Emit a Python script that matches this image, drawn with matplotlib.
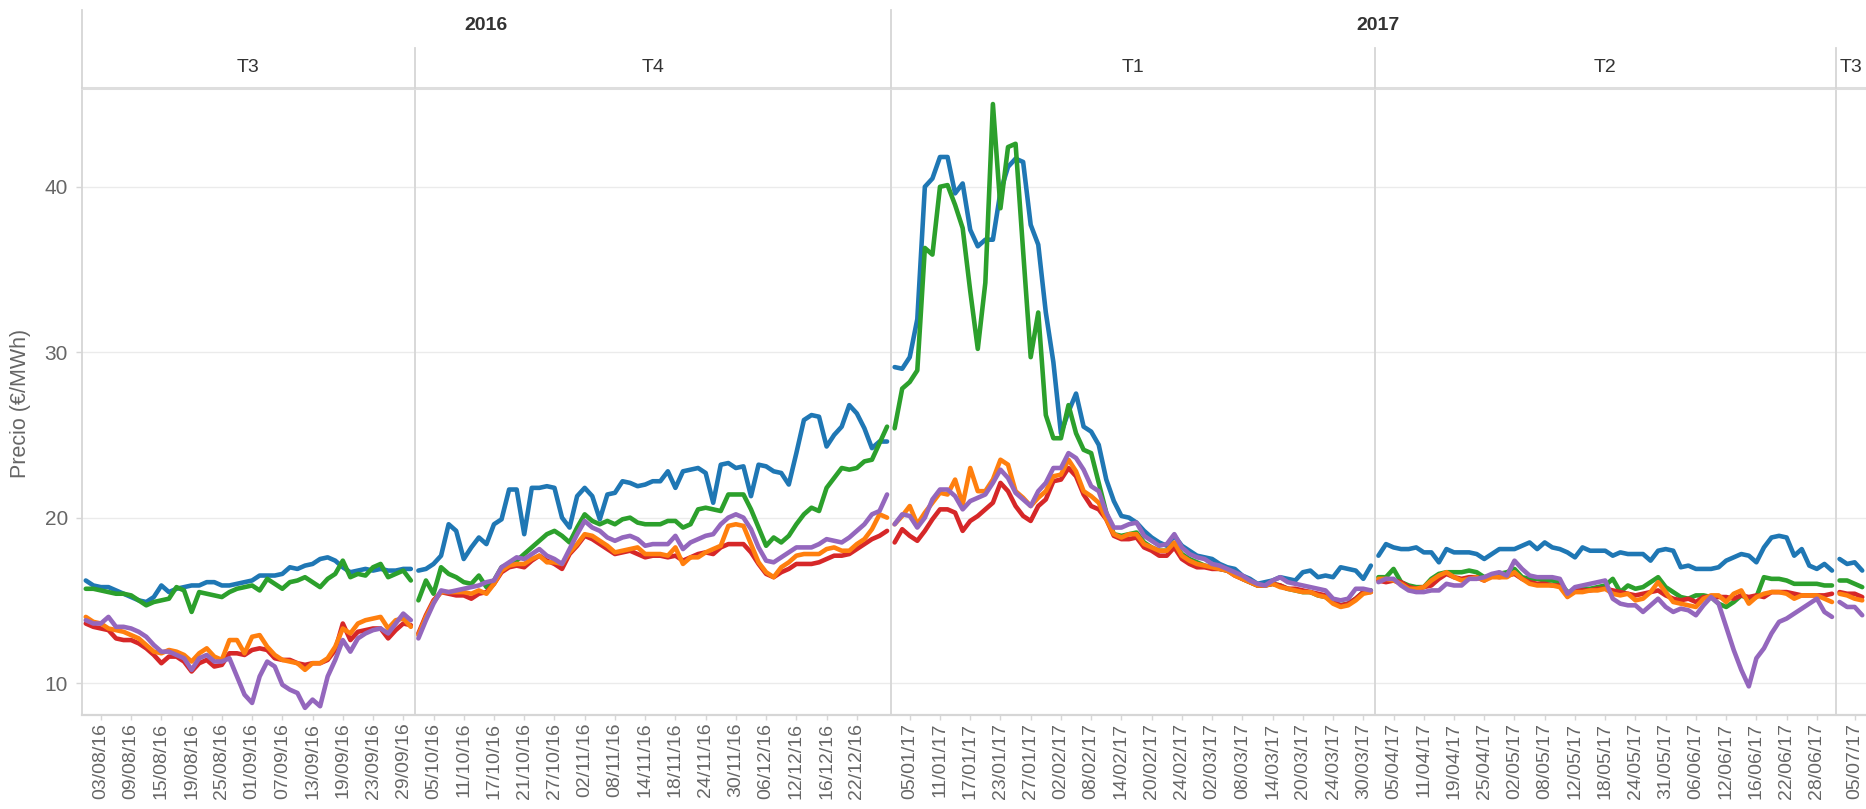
import matplotlib
matplotlib.use("Agg")
import matplotlib.pyplot as plt
from matplotlib.lines import Line2D
from matplotlib.transforms import blended_transform_factory
import numpy as np
import pandas as pd

plt.rcParams['font.family'] = ['Liberation Sans', 'DejaVu Sans']

# ---------------- data ----------------
uk_holidays = ["2016-08-29", "2016-12-26", "2016-12-27", "2017-01-02",
               "2017-04-14", "2017-04-17", "2017-05-01", "2017-05-29"]
panel_years = ["2016", "2016", "2017", "2017", "2017"]
panel_quarters = ["T3", "T4", "T1", "T2", "T3"]
panel_starts = ["2016-08-01", "2016-10-03", "2017-01-03", "2017-04-03", "2017-07-03"]
panel_ends = ["2016-09-30", "2016-12-30", "2017-03-31", "2017-06-30", "2017-07-06"]

serie_azul = [
    # T3 2016
    16.2, 15.9, 15.8, 15.8, 15.6, 15.4, 15.2, 15.0, 14.9, 15.2, 15.9, 15.5, 15.7, 15.8, 15.9, 15.9,
    16.1, 16.1, 15.9, 15.9, 16.0, 16.1, 16.2, 16.5, 16.5, 16.5, 16.6, 17.0, 16.9, 17.1, 17.2, 17.5,
    17.6, 17.4, 17.0, 16.7, 16.8, 16.9, 16.8, 16.9, 16.8, 16.8, 16.9, 16.9,
    # T4 2016
    16.8, 16.9, 17.2, 17.7, 19.6, 19.2, 17.5, 18.2, 18.8, 18.4, 19.6, 19.9, 21.7, 21.7, 19.0, 21.8,
    21.8, 21.9, 21.8, 20.0, 19.4, 21.3, 21.8, 21.3, 19.9, 21.4, 21.5, 22.2, 22.1, 21.9, 22.0, 22.2,
    22.2, 22.8, 21.8, 22.8, 22.9, 23.0, 22.7, 20.9, 23.2, 23.3, 23.0, 23.1, 21.3, 23.2, 23.1, 22.8,
    22.7, 22.0, 23.9, 25.9, 26.2, 26.1, 24.3, 25.0, 25.5, 26.8, 26.3, 25.4, 24.2, 24.6, 24.6,
    # T1 2017
    29.1, 29.0, 29.7, 32.0, 40.0, 40.5, 41.8, 41.8, 39.6, 40.2, 37.4, 36.4, 36.8, 36.8, 39.7, 41.2,
    41.7, 41.5, 37.7, 36.5, 32.4, 29.4, 25.1, 26.4, 27.5, 25.5, 25.2, 24.4, 22.3, 21.0, 20.1, 20.0,
    19.7, 19.2, 18.8, 18.5, 18.3, 18.9, 18.3, 18.0, 17.7, 17.6, 17.5, 17.2, 17.0, 16.9, 16.5, 16.3,
    16.0, 16.1, 16.2, 16.4, 16.3, 16.2, 16.7, 16.8, 16.4, 16.5, 16.4, 17.0, 16.9, 16.8, 16.3, 17.1,
    # T2 2017
    17.7, 18.4, 18.2, 18.1, 18.1, 18.2, 17.9, 17.9, 17.3, 18.1, 17.9, 17.9, 17.9, 17.8, 17.5, 17.8,
    18.1, 18.1, 18.1, 18.3, 18.5, 18.1, 18.5, 18.2, 18.1, 17.9, 17.6, 18.2, 18.0, 18.0, 18.0, 17.7,
    17.9, 17.8, 17.8, 17.8, 17.4, 18.0, 18.1, 18.0, 17.0, 17.1, 16.9, 16.9, 16.9, 17.0, 17.4, 17.6,
    17.8, 17.7, 17.3, 18.2, 18.8, 18.9, 18.8, 17.7, 18.1, 17.1, 16.9, 17.2, 16.8,
    # T3 2017
    17.5, 17.2, 17.3, 16.8,
]

serie_verde = [
    15.7, 15.7, 15.6, 15.5, 15.4, 15.4, 15.3, 15.0, 14.7, 14.9, 15.0, 15.1, 15.8, 15.6, 14.3, 15.5,
    15.4, 15.3, 15.2, 15.5, 15.7, 15.8, 15.9, 15.6, 16.3, 16.0, 15.7, 16.1, 16.2, 16.4, 16.1, 15.8,
    16.3, 16.6, 17.4, 16.4, 16.6, 16.5, 17.0, 17.2, 16.4, 16.6, 16.8, 16.2,
    15.0, 16.2, 15.4, 17.0, 16.6, 16.4, 16.1, 16.0, 16.5, 15.8, 16.2, 17.0, 17.2, 17.4, 17.8, 18.2,
    18.6, 19.0, 19.2, 18.9, 18.5, 19.4, 20.2, 19.8, 19.6, 19.8, 19.6, 19.9, 20.0, 19.7, 19.6, 19.6,
    19.6, 19.8, 19.8, 19.4, 19.6, 20.5, 20.6, 20.5, 20.4, 21.4, 21.4, 21.4, 20.5, 19.4, 18.3, 18.8,
    18.5, 18.9, 19.6, 20.2, 20.6, 20.4, 21.8, 22.4, 23.0, 22.9, 23.0, 23.4, 23.5, 24.5, 25.5,
    25.4, 27.8, 28.2, 28.9, 36.3, 35.9, 40.0, 40.1, 38.9, 37.5, 33.7, 30.2, 34.2, 45.0, 38.7, 42.4,
    42.6, 36.1, 29.7, 32.4, 26.2, 24.8, 24.8, 26.8, 25.1, 24.1, 23.9, 22.1, 20.3, 19.0, 18.9, 19.0,
    19.1, 18.5, 18.2, 18.0, 18.0, 18.4, 17.8, 17.5, 17.3, 17.1, 17.0, 16.9, 16.8, 16.6, 16.3, 16.1,
    15.9, 15.9, 16.0, 15.9, 15.7, 15.6, 15.5, 15.5, 15.3, 15.2, 14.9, 14.7, 14.8, 15.1, 15.5, 15.6,
    16.4, 16.4, 16.9, 16.1, 15.9, 15.8, 15.8, 16.3, 16.6, 16.7, 16.7, 16.7, 16.8, 16.7, 16.4, 16.5,
    16.6, 16.7, 16.9, 16.4, 16.3, 16.3, 16.2, 16.2, 16.1, 15.5, 15.6, 15.7, 15.7, 15.8, 15.9, 16.3,
    15.5, 15.9, 15.7, 15.8, 16.1, 16.4, 15.8, 15.5, 15.2, 15.1, 15.3, 15.3, 15.2, 14.8, 14.6, 14.9,
    15.3, 15.1, 15.2, 16.4, 16.3, 16.3, 16.2, 16.0, 16.0, 16.0, 16.0, 15.9, 15.9,
    16.2, 16.2, 16.0, 15.8,
]

serie_roja = [
    13.6, 13.4, 13.3, 13.2, 12.7, 12.6, 12.6, 12.4, 12.1, 11.7, 11.2, 11.6, 11.6, 11.3, 10.7, 11.2,
    11.4, 11.0, 11.1, 11.8, 11.8, 11.7, 12.0, 12.1, 12.0, 11.5, 11.4, 11.4, 11.2, 11.1, 11.2, 11.2,
    11.4, 12.0, 13.6, 12.6, 13.1, 13.2, 13.3, 13.3, 12.7, 13.2, 13.6, 13.5,
    13.0, 14.1, 15.0, 15.5, 15.4, 15.3, 15.3, 15.1, 15.4, 15.5, 16.0, 16.7, 17.0, 17.1, 17.0, 17.4,
    17.7, 17.4, 17.2, 16.9, 17.8, 18.3, 18.9, 18.7, 18.4, 18.1, 17.8, 17.9, 18.0, 17.8, 17.6, 17.7,
    17.7, 17.6, 17.7, 17.4, 17.6, 17.8, 17.9, 17.8, 18.2, 18.4, 18.4, 18.4, 17.9, 17.2, 16.6, 16.4,
    16.7, 16.9, 17.2, 17.2, 17.2, 17.3, 17.5, 17.7, 17.7, 17.8, 18.1, 18.4, 18.7, 18.9, 19.2,
    18.5, 19.3, 18.9, 18.6, 19.2, 19.9, 20.5, 20.5, 20.3, 19.2, 19.8, 20.1, 20.5, 20.9, 22.1, 21.6,
    20.7, 20.1, 19.8, 20.7, 21.1, 22.2, 22.3, 23.0, 22.5, 21.4, 20.7, 20.5, 19.9, 18.9, 18.7, 18.7,
    18.8, 18.2, 18.0, 17.7, 17.7, 18.2, 17.5, 17.2, 17.0, 17.0, 16.9, 16.9, 16.8, 16.5, 16.3, 16.1,
    15.9, 15.9, 16.0, 15.9, 15.7, 15.7, 15.6, 15.5, 15.4, 15.3, 14.9, 14.7, 14.8, 15.1, 15.5, 15.5,
    16.2, 16.1, 16.2, 16.1, 15.8, 15.7, 15.8, 15.9, 16.3, 16.6, 16.4, 16.3, 16.4, 16.4, 16.2, 16.5,
    16.4, 16.5, 16.6, 16.3, 16.1, 16.0, 16.0, 15.9, 15.9, 15.4, 15.6, 15.6, 15.6, 15.7, 15.7, 15.6,
    15.5, 15.4, 15.3, 15.4, 15.5, 15.6, 15.3, 15.1, 15.0, 15.1, 14.9, 15.2, 15.2, 15.2, 15.2, 15.1,
    15.3, 15.2, 15.3, 15.2, 15.5, 15.5, 15.5, 15.4, 15.3, 15.3, 15.3, 15.3, 15.4,
    15.5, 15.4, 15.4, 15.2,
]

serie_naranja = [
    14.0, 13.7, 13.6, 13.3, 13.2, 13.1, 12.9, 12.7, 12.3, 11.9, 11.8, 12.0, 11.9, 11.7, 11.3, 11.8,
    12.1, 11.6, 11.4, 12.6, 12.6, 11.8, 12.8, 12.9, 12.2, 11.7, 11.4, 11.3, 11.2, 10.8, 11.2, 11.2,
    11.5, 12.2, 13.3, 13.0, 13.6, 13.8, 13.9, 14.0, 13.3, 13.8, 13.9, 13.4,
    12.9, 14.0, 14.9, 15.5, 15.5, 15.5, 15.5, 15.4, 15.6, 15.4, 16.0, 16.8, 17.1, 17.2, 17.2, 17.5,
    17.7, 17.3, 17.3, 17.2, 17.9, 18.4, 19.0, 18.9, 18.6, 18.3, 17.9, 18.0, 18.1, 18.2, 17.8, 17.8,
    17.8, 17.7, 18.2, 17.2, 17.6, 17.6, 17.9, 18.1, 18.3, 19.5, 19.6, 19.5, 18.4, 17.3, 16.7, 16.4,
    17.0, 17.3, 17.7, 17.8, 17.8, 17.8, 18.1, 18.2, 18.0, 18.0, 18.4, 18.7, 19.3, 20.2, 20.0,
    19.6, 20.1, 20.7, 19.6, 20.3, 20.9, 21.5, 21.4, 22.3, 20.8, 23.0, 21.6, 21.6, 22.3, 23.5, 23.2,
    21.6, 21.2, 20.7, 21.2, 21.6, 22.5, 22.6, 23.5, 22.8, 21.6, 21.3, 20.9, 19.9, 19.0, 18.8, 19.0,
    19.0, 18.4, 18.2, 18.0, 18.0, 18.5, 17.7, 17.4, 17.2, 17.1, 17.0, 16.9, 16.8, 16.5, 16.3, 16.1,
    15.9, 15.9, 16.0, 15.8, 15.7, 15.6, 15.5, 15.5, 15.3, 15.2, 14.8, 14.6, 14.7, 15.0, 15.4, 15.5,
    16.3, 16.3, 16.2, 16.0, 15.7, 15.7, 15.8, 16.2, 16.5, 16.7, 16.4, 16.2, 16.3, 16.4, 16.2, 16.4,
    16.4, 16.4, 16.7, 16.3, 16.0, 15.9, 15.9, 15.9, 15.8, 15.2, 15.5, 15.5, 15.6, 15.6, 15.7, 15.4,
    15.3, 15.4, 15.0, 15.1, 15.5, 16.1, 15.5, 14.9, 14.8, 14.7, 14.6, 15.1, 15.3, 15.3, 14.9, 15.4,
    15.6, 14.8, 15.2, 15.4, 15.5, 15.5, 15.4, 15.1, 15.3, 15.3, 15.3, 15.1, 14.9,
    15.4, 15.3, 15.1, 15.0,
]

serie_morada = [
    13.8, 13.6, 13.6, 14.0, 13.4, 13.4, 13.3, 13.1, 12.8, 12.3, 11.9, 11.9, 11.7, 11.5, 10.8, 11.5,
    11.7, 11.3, 11.3, 11.5, 10.4, 9.3, 8.8, 10.4, 11.3, 11.0, 9.9, 9.6, 9.4, 8.5, 9.0, 8.6,
    10.4, 11.4, 12.6, 11.9, 12.7, 13.0, 13.2, 13.3, 13.0, 13.6, 14.2, 13.8,
    12.7, 13.8, 14.8, 15.6, 15.5, 15.6, 15.7, 15.8, 15.9, 16.1, 16.2, 17.0, 17.3, 17.6, 17.5, 17.8,
    18.1, 17.7, 17.5, 17.2, 18.1, 19.0, 19.8, 19.4, 19.2, 18.8, 18.6, 18.8, 18.9, 18.7, 18.3, 18.4,
    18.4, 18.4, 18.9, 18.1, 18.5, 18.7, 18.9, 19.0, 19.6, 20.0, 20.2, 20.0, 19.3, 18.2, 17.4, 17.3,
    17.6, 17.9, 18.2, 18.2, 18.2, 18.4, 18.7, 18.6, 18.5, 18.8, 19.2, 19.6, 20.2, 20.4, 21.4,
    19.6, 20.2, 20.1, 19.4, 20.0, 21.1, 21.7, 21.7, 21.3, 20.5, 21.0, 21.2, 21.4, 22.1, 22.9, 22.4,
    21.5, 21.1, 20.7, 21.6, 22.1, 23.0, 23.0, 23.9, 23.6, 22.9, 21.9, 21.6, 20.3, 19.4, 19.4, 19.6,
    19.7, 18.9, 18.6, 18.3, 18.4, 19.0, 18.2, 17.8, 17.6, 17.5, 17.2, 17.1, 16.9, 16.7, 16.5, 16.2,
    16.0, 15.9, 16.2, 16.4, 16.1, 16.0, 15.9, 15.8, 15.7, 15.6, 15.1, 15.0, 15.1, 15.7, 15.7, 15.6,
    16.1, 16.3, 16.3, 15.9, 15.6, 15.5, 15.5, 15.6, 15.6, 16.0, 15.9, 15.9, 16.3, 16.3, 16.4, 16.6,
    16.7, 16.5, 17.4, 16.9, 16.5, 16.4, 16.4, 16.4, 16.3, 15.4, 15.8, 15.9, 16.0, 16.1, 16.2, 15.1,
    14.8, 14.7, 14.7, 14.3, 14.7, 15.1, 14.6, 14.3, 14.5, 14.4, 14.1, 14.7, 15.2, 14.8, 13.4, 12.0,
    10.8, 9.8, 11.5, 12.1, 13.0, 13.7, 13.9, 14.2, 14.5, 14.8, 15.1, 14.3, 14.0,
    14.9, 14.6, 14.6, 14.1,
]

series = [
    (serie_azul, "#1f77b4"),
    (serie_verde, "#2ca02c"),
    (serie_roja, "#d62728"),
    (serie_naranja, "#ff7f0e"),
    (serie_morada, "#9467bd"),
]

# ---------------- layout ----------------
W, H = 1866, 809
fig = plt.figure(figsize=(W / 100, H / 100), dpi=100)
L, R, T, B = 82, 1866, 88, 715
ax = fig.add_axes([L / W, 1 - B / H, (R - L) / W, (B - T) / H])

panel_dates = [pd.bdate_range(s, e, freq="C", holidays=uk_holidays)
               for s, e in zip(panel_starts, panel_ends)]
counts = [len(d) for d in panel_dates]
offsets = np.concatenate([[0], np.cumsum(counts)])
total = offsets[-1]

GRID = "#ebebeb"
SEP = "#d6d6d6"
TXT = "#666666"
HDR = "#333333"

for y in [10, 20, 30, 40]:
    ax.axhline(y, color=GRID, lw=1.0, zorder=0)

for b in offsets[1:-1]:
    ax.axvline(b, color=SEP, lw=1.3, zorder=1)

for z, (vals, col) in enumerate(series):
    vals = np.asarray(vals, dtype=float)
    for p in range(len(counts)):
        a, e = offsets[p], offsets[p + 1]
        xs = np.arange(a, e) + 0.5
        ax.plot(xs, vals[a:e], color=col, lw=3.3, solid_joinstyle="round",
                solid_capstyle="round", zorder=3 + z)

ax.set_xlim(0, total)
ax.set_ylim(8.07, 45.97)

tick_pos, tick_lab = [], []
for p, dates in enumerate(panel_dates):
    n = len(dates)
    for k in range(2, n, 4):
        if p < len(panel_dates) - 1 and n - k < 2:
            continue
        tick_pos.append(offsets[p] + k + 0.5)
        tick_lab.append(dates[k].strftime("%d/%m/%y"))
ax.set_xticks(tick_pos)
ax.set_xticklabels(tick_lab, rotation=90, fontsize=14, color=TXT)
ax.set_yticks([10, 20, 30, 40])
ax.set_yticklabels(["10", "20", "30", "40"], fontsize=15, color=TXT)
ax.tick_params(axis="x", length=3.5, width=1, color=SEP, pad=2)
ax.tick_params(axis="y", length=4, width=1, color=SEP, pad=6)

ax.spines["right"].set_visible(False)
ax.spines["top"].set_color("#dedede")
ax.spines["top"].set_linewidth(2.2)
ax.spines["bottom"].set_color(SEP)
ax.spines["bottom"].set_linewidth(1.6)
ax.spines["left"].set_color(SEP)
ax.spines["left"].set_linewidth(1.3)

# header
tr = blended_transform_factory(ax.transData, fig.transFigure)
y_top = 1 - 10 / H
y_mid = 1 - 48 / H
y_hdr = 1 - T / H
year_bounds = [0]
for p in range(1, len(counts)):
    if panel_years[p] != panel_years[p - 1]:
        year_bounds.append(offsets[p])
for b in offsets[:-1]:
    top = y_top if b in year_bounds else y_mid
    fig.add_artist(Line2D([b, b], [top, y_hdr], transform=tr, color=SEP, lw=1.3))

for p in range(len(counts)):
    c = (offsets[p] + min(offsets[p + 1], total)) / 2
    fig.text(c, 1 - 67 / H, panel_quarters[p], transform=tr, ha="center", va="center",
             fontsize=14, color=HDR)

yb = year_bounds + [total]
for i in range(len(yb) - 1):
    c = (yb[i] + yb[i + 1]) / 2
    yr = panel_years[list(offsets).index(yb[i])]
    fig.text(c, 1 - 26 / H, yr, transform=tr, ha="center", va="center",
             fontsize=14, fontweight="bold", color=HDR)

fig.text(21 / W, 1 - 403 / H, "Precio (€/MWh)", rotation=90, ha="center", va="center",
         fontsize=15.5, color=TXT)

fig.savefig("out.png", dpi=100, facecolor="white")
